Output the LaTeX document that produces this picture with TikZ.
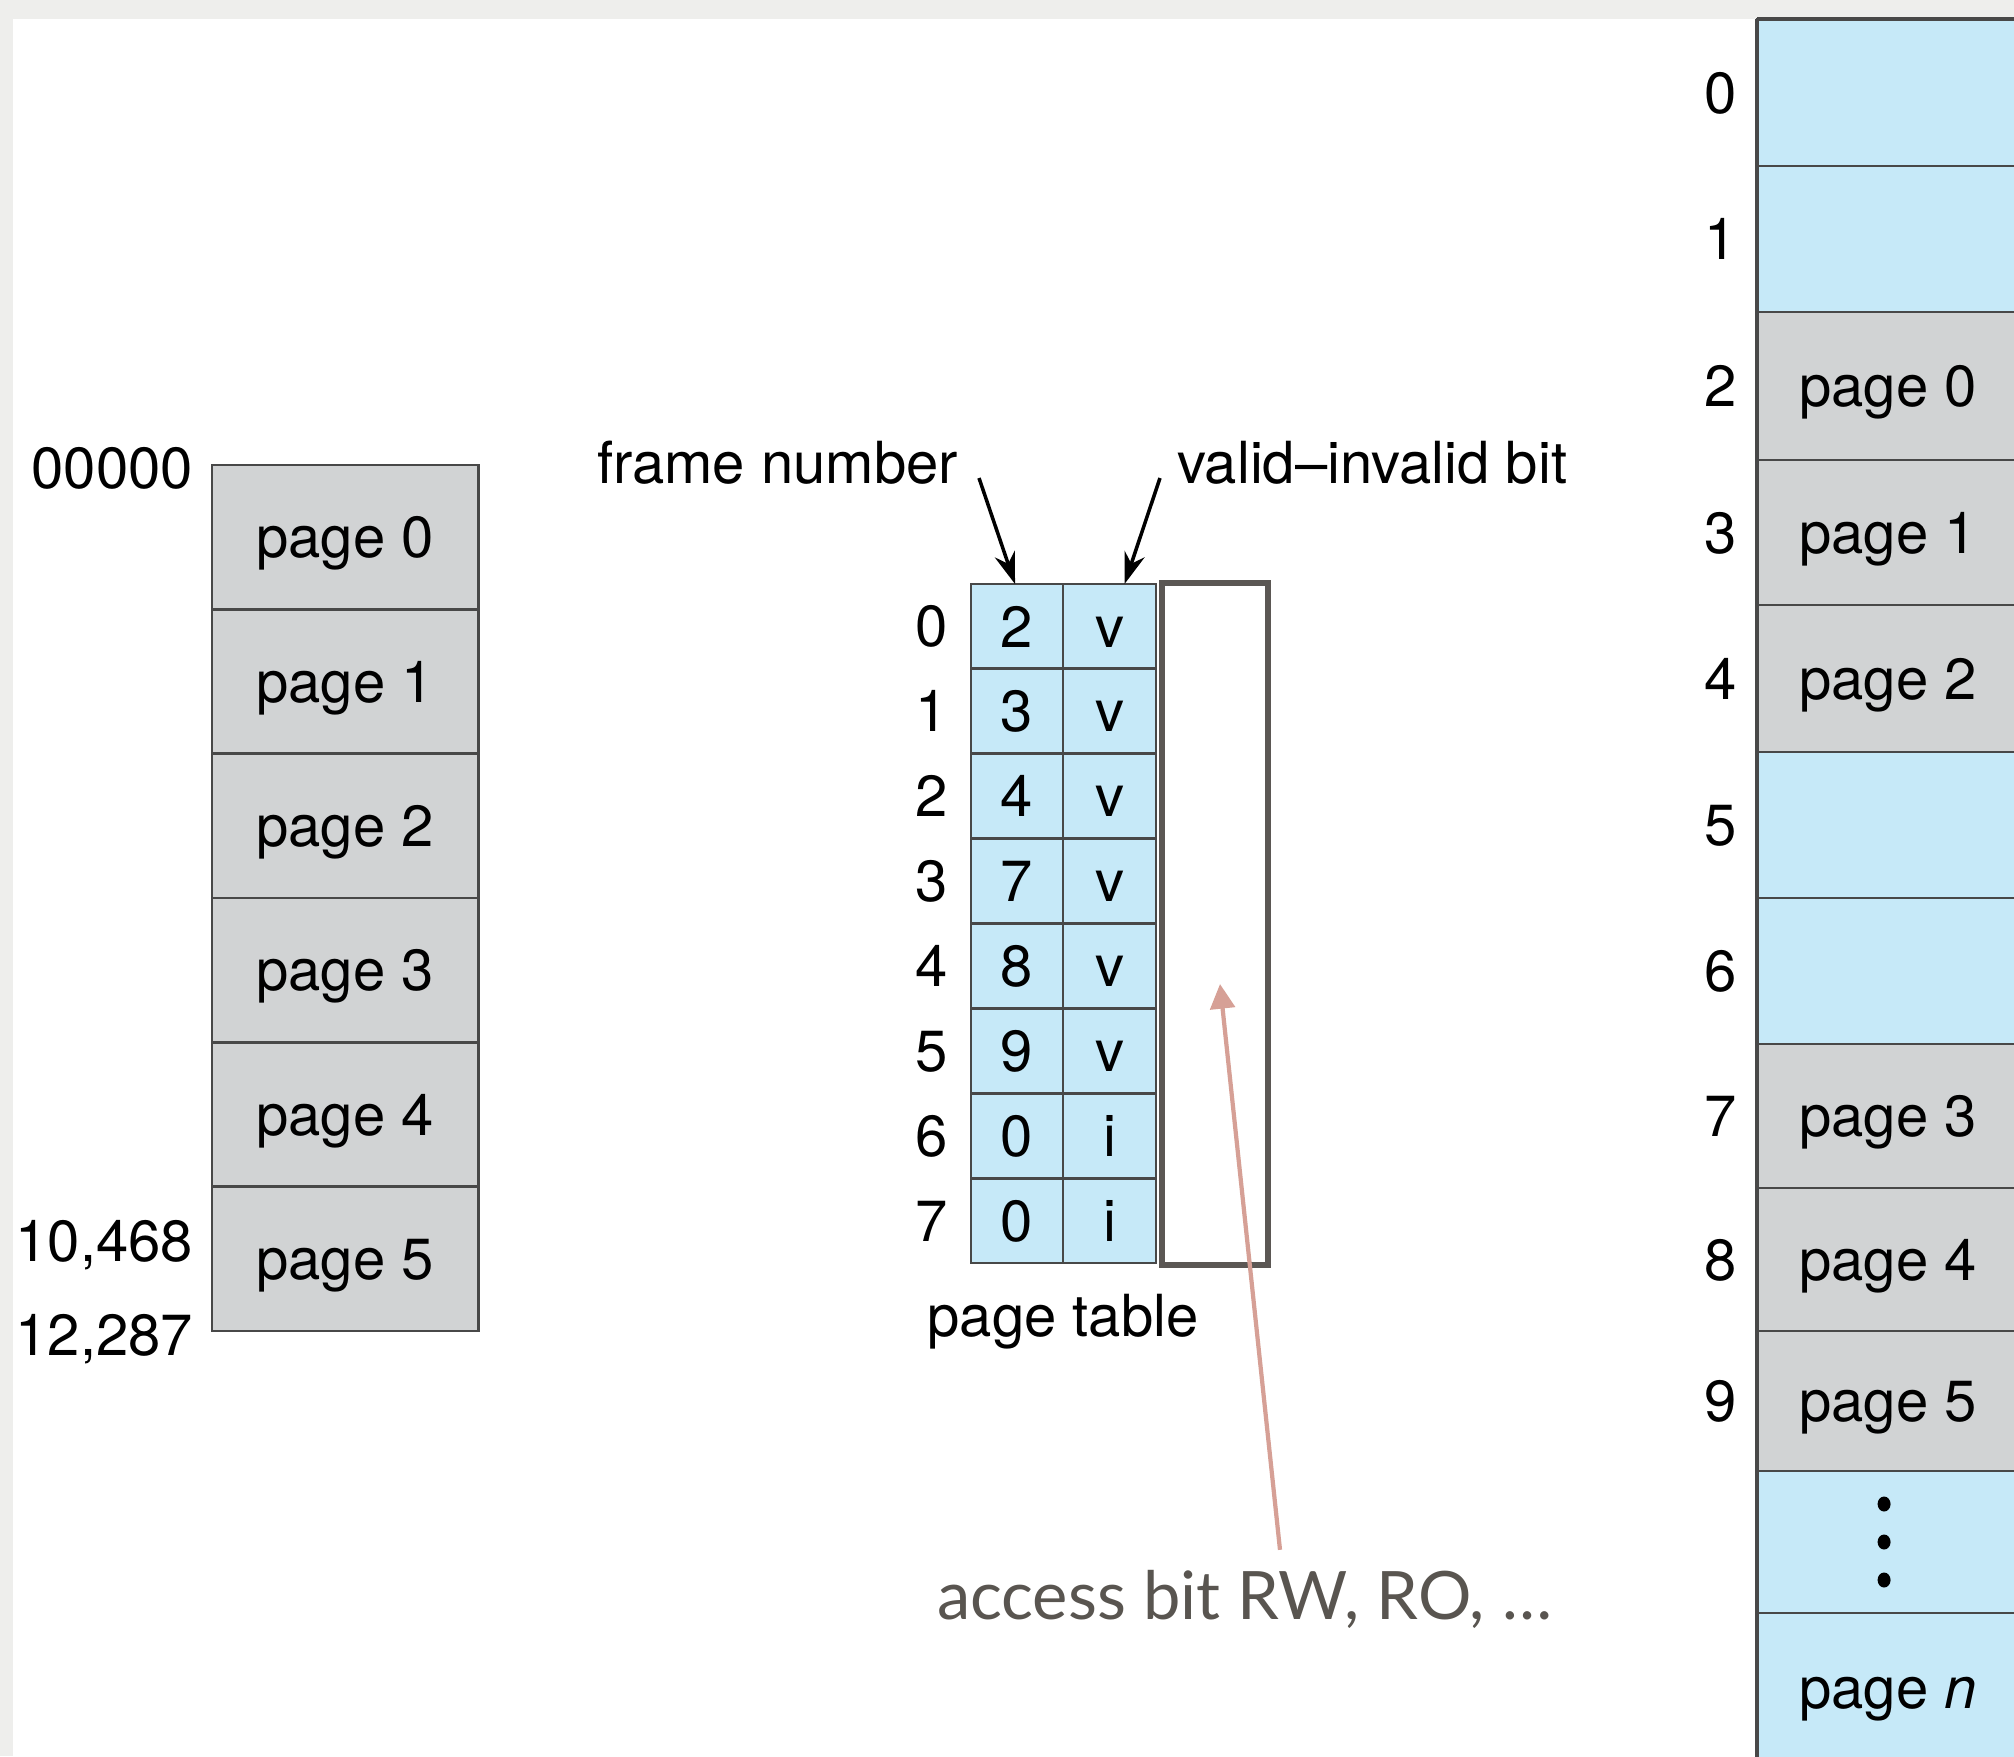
\documentclass[tikz,border=0pt]{standalone}
\usepackage{fontspec}
\setmainfont{TeX Gyre Heros}
\newfontfamily\notefont{Lato}
\usetikzlibrary{arrows.meta,calc}

\definecolor{memblue}{RGB}{198,233,248}
\definecolor{pagegray}{RGB}{209,211,212}
\definecolor{rulec}{RGB}{72,72,72}
\definecolor{boxgray}{RGB}{91,87,84}
\definecolor{notegray}{RGB}{89,85,80}
\definecolor{notepink}{RGB}{214,160,150}
\definecolor{paper}{RGB}{238,238,236}

\begin{document}
\begin{tikzpicture}[x=0.01cm,y=-0.01cm,
  font=\fontsize{16.5}{19}\selectfont,
  every node/.style={inner sep=0pt, outer sep=0pt},
  txt/.style={text height=11.7pt, text depth=0pt},
  slot/.style={draw=rulec, line width=0.8pt, anchor=north west, txt},
  pagecell/.style={slot, fill=pagegray},
  freecell/.style={slot, fill=memblue},
  ptcell/.style={slot, fill=memblue, minimum height=0.84875cm},
  ptr/.style={line width=1pt, -{Stealth[length=9pt,width=6pt]}},
  notearrow/.style={draw=notepink, line width=1.2pt, -{Triangle[length=7pt,width=7pt]}, notepink}
]
% page area
\clip (0,0) rectangle (2014,1756);
\fill[paper] (0,0) rectangle (2014,1756);
\fill[white] (13,19) rectangle (2014,1756);

% logical memory
\foreach \i in {0,...,5}
  \node[pagecell, minimum width=2.66cm, minimum height=1.4433cm]
    (lp\i) at (212,{465+144.33*\i}) {page \i};
\node[anchor=base east] (addr0) at (193,488) {00000};
\node[anchor=base east] (addr1) at (193,1261) {10,468};
\node[anchor=base east] (addr2) at (193,1355) {12,287};

% page table
\foreach \i/\f/\b in {0/2/v,1/3/v,2/4/v,3/7/v,4/8/v,5/9/v,6/0/i,7/0/i} {
  \node[ptcell, minimum width=0.92cm] (pf\i) at (971,{584+84.875*\i}) {\f};
  \node[ptcell, minimum width=0.93cm] (pv\i) at (1063,{584+84.875*\i}) {\b};
  \node[txt, anchor=center] (pi\i) at (932,{626.4+84.875*\i}) {\i};
}
\node[anchor=north west, draw=boxgray, line width=1.7pt,
      minimum width=1.06cm, minimum height=6.82cm] (acc) at (1162,583) {};
\node[anchor=base] (ptlabel) at (1063,1336) {page table};

% column headings
\node[anchor=base east] (fn) at (958,483) {frame number};
\node[anchor=base west] (vb) at (1177,483) {valid--invalid bit};
\draw[ptr] ($(fn.base east)+(21,-5)$) -- ($(pf0.north)+(-2,0)$);
\draw[ptr] ($(vb.base west)+(-17,-5)$) -- ($(pv0.north)+(15,0)$);

% physical memory
\foreach \k/\t/\h/\st/\lab in {
  0/19/147/freecell/{},
  1/166/146/freecell/{},
  2/312/148/pagecell/{page 0},
  3/460/145/pagecell/{page 1},
  4/605/147/pagecell/{page 2},
  5/752/146/freecell/{},
  6/898/146/freecell/{},
  7/1044/144/pagecell/{page 3},
  8/1188/143/pagecell/{page 4},
  9/1331/140/pagecell/{page 5},
  10/1471/142/freecell/{},
  11/1613/150/freecell/{page \textit{n}}} {
  \node[\st, minimum width=2.62cm, minimum height=\h*0.01cm] (fr\k) at (1757,\t) {\lab};
}
\foreach \k in {0,...,9}
  \node[txt, anchor=center] (fi\k) at ($(fr\k.west)+(-36,0)$) {\k};
\draw[rulec, line width=1.4pt] (fr0.north west) -- (fr11.south west);
\draw[rulec, line width=1.4pt] (fr0.north west) -- (fr0.north east);
\foreach \d in {-38,0,38}
  \fill[black] ($(fr10.center)+(-4,\d)$) ellipse (6.5 and 7.5);

% access-bit annotation
\node[anchor=base west, font=\notefont\fontsize{19}{22}\selectfont, text=notegray]
  (note) at (937,1619) {access bit RW, RO, …};
\coordinate (acctip) at (1220,984);
\draw[notearrow] ($(note.north west)+(343,-20)$) -- (acctip);
\end{tikzpicture}
\end{document}
